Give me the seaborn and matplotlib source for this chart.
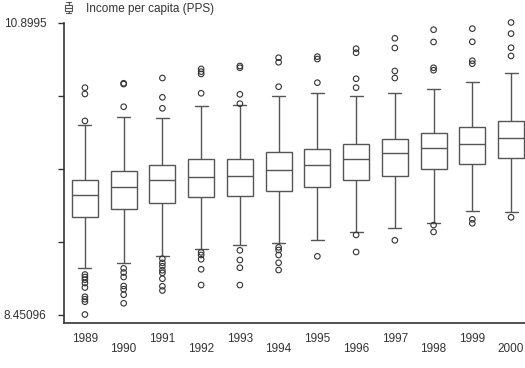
import matplotlib
matplotlib.use('Agg')
import matplotlib.pyplot as plt
from matplotlib.patches import Patch, Rectangle
from matplotlib.lines import Line2D
from matplotlib.legend_handler import HandlerBase
import numpy as np
import pandas as pd
import seaborn as sns

# %%
years = ['1989', '1990', '1991', '1992', '1993', '1994',
         '1995', '1996', '1997', '1998', '1999', '2000']

# five-number summaries (log income per capita, PPS)
whisker_low = [8.838, 8.885, 8.944, 9.003, 9.031, 9.050, 9.073, 9.143, 9.174, 9.221, 9.316, 9.313]
q1 = [9.268, 9.338, 9.388, 9.439, 9.442, 9.489, 9.518, 9.579, 9.610, 9.668, 9.713, 9.763]
median = [9.450, 9.520, 9.579, 9.606, 9.612, 9.665, 9.705, 9.752, 9.805, 9.847, 9.881, 9.934]
q3 = [9.581, 9.652, 9.702, 9.757, 9.752, 9.816, 9.841, 9.881, 9.925, 9.973, 10.021, 10.074]
whisker_high = [10.043, 10.107, 10.101, 10.202, 10.208, 10.286, 10.311, 10.281, 10.306, 10.342, 10.398, 10.479]

outliers = [
    [10.353, 10.300, 10.074, 8.786, 8.765, 8.743, 8.715, 8.677, 8.600, 8.579, 8.558, 8.45096],
    [10.390, 10.383, 10.193, 8.838, 8.803, 8.765, 8.690, 8.663, 8.617, 8.545],
    [10.434, 10.272, 10.180, 8.919, 8.884, 8.856, 8.822, 8.800, 8.751, 8.688, 8.652],
    [10.510, 10.487, 10.468, 10.306, 8.972, 8.950, 8.914, 8.830, 8.698],
    [10.535, 10.520, 10.297, 10.219, 8.989, 8.908, 8.843, 8.698],
    [10.604, 10.566, 10.361, 9.014, 8.992, 8.950, 8.885, 8.824],
    [10.613, 10.593, 10.395, 8.939],
    [10.680, 10.646, 10.428, 10.353, 9.118, 8.975],
    [10.767, 10.686, 10.493, 10.434, 9.073],
    [10.839, 10.736, 10.520, 10.499, 9.201, 9.143],
    [10.848, 10.738, 10.579, 10.554, 9.249, 9.216],
    [10.8995, 10.806, 10.688, 10.619, 9.266],
]

y_min, y_max = 8.45096, 10.8995
legend_label = 'Income per capita (PPS)'

# %%
box_df = pd.DataFrame({
    'year': np.repeat(years, 5),
    'value': np.column_stack([whisker_low, q1, median, q3, whisker_high]).ravel(),
})
out_df = pd.DataFrame({
    'year': [y for y, vals in zip(years, outliers) for _ in vals],
    'value': [v for vals in outliers for v in vals],
})

sns.set_theme(style='ticks')
plt.rcParams['font.family'] = ['Liberation Sans', 'DejaVu Sans']
plt.rcParams['font.size'] = 8.5

grey = '#555555'
dark = '#333333'


class BoxIcon(HandlerBase):
    """tiny boxplot glyph for the legend"""
    def create_artists(self, legend, orig_handle, xdescent, ydescent, width, height, fontsize, trans):
        x0, y0 = -xdescent, -ydescent
        cx = x0 + width / 2
        kw = dict(color=grey, lw=0.8, transform=trans)
        box = Rectangle((x0, y0 + height * 0.25), width, height * 0.5,
                        fc='white', ec=grey, lw=0.8, transform=trans)
        return [
            box,
            Line2D([x0, x0 + width], [y0 + height * 0.5] * 2, **kw),
            Line2D([cx, cx], [y0 + height * 0.75, y0 + height], **kw),
            Line2D([cx, cx], [y0, y0 + height * 0.25], **kw),
            Line2D([x0 + width * 0.2, x0 + width * 0.8], [y0 + height] * 2, **kw),
            Line2D([x0 + width * 0.2, x0 + width * 0.8], [y0] * 2, **kw),
        ]


f = plt.figure(figsize=(5.25, 3.68), dpi=100)
ax = f.add_axes([64/525, 45/368, 461/525, 300.5/368])

sns.boxplot(data=box_df, x='year', y='value', order=years, whis=(0, 100),
            showfliers=False, width=0.67, color='white', linecolor=grey,
            linewidth=1.0, ax=ax)
n_before = len(ax.collections)
sns.stripplot(data=out_df, x='year', y='value', order=years, jitter=False,
              color=dark, size=4, linewidth=0.8, edgecolor=dark, ax=ax)
for coll in ax.collections[n_before:]:
    coll.set_facecolor('none')
    coll.set_clip_on(False)

ax.set_xlim(-0.54, 11.36)
ax.set_ylim(8.3797, y_max)
ax.set_xlabel('')
ax.set_ylabel('')

yticks = np.linspace(y_min, y_max, 5)
ax.set_yticks(yticks)
ax.set_yticklabels(['8.45096', '', '', '', '10.8995'])
ax.tick_params(axis='y', length=4.5, width=1.0, color=dark, pad=8, labelcolor=dark, labelsize=8.5)
ax.tick_params(axis='x', length=0, labelcolor=dark, labelsize=8.5)
for i, tick in enumerate(ax.xaxis.get_major_ticks()):
    tick.set_pad(7 if i % 2 == 0 else 14.5)

sns.despine(ax=ax)
for side in ['left', 'bottom']:
    ax.spines[side].set_color(dark)
    ax.spines[side].set_linewidth(1.2)

handle = Patch(facecolor='white', edgecolor=grey, label=legend_label)
f.legend(handles=[handle], handler_map={Patch: BoxIcon()},
         loc='center left', bbox_to_anchor=(65/525, 1 - 8.5/368),
         frameon=False, handlelength=0.6, handleheight=1.1, handletextpad=1.2,
         borderpad=0, borderaxespad=0, fontsize=8.5, labelcolor=dark)

f.savefig('out.png', dpi=100)
